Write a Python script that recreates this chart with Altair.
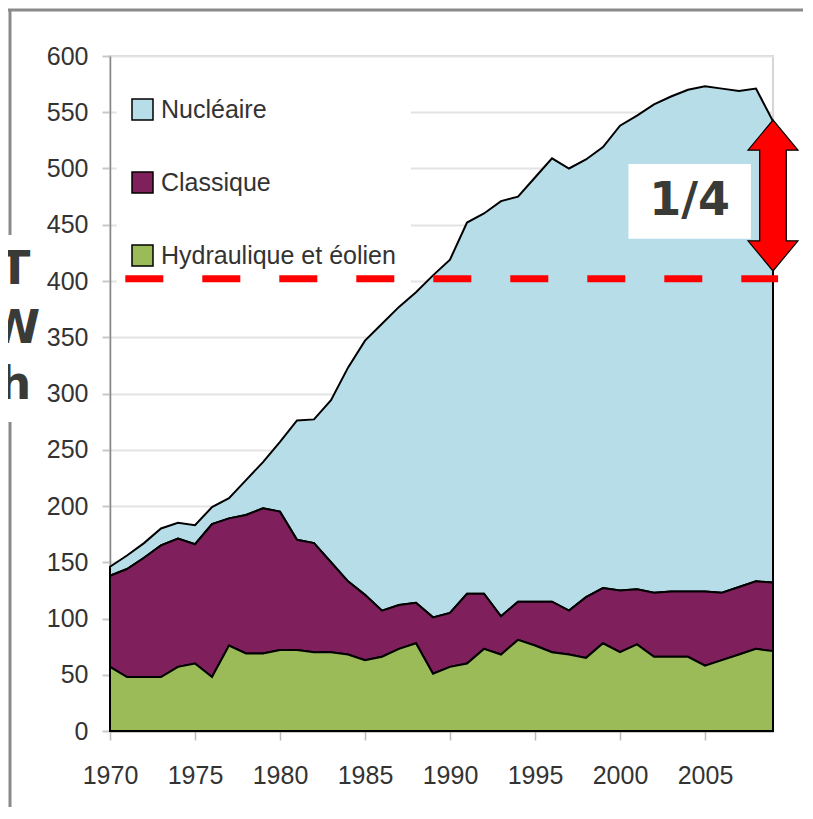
import altair as alt
import pandas as pd

# ---- data (TWh) ----
annees = list(range(1970, 2010))
hydraulique = [57, 48, 48, 48, 57, 60, 48, 76, 69, 69,
               72, 72, 70, 70, 68, 63, 66, 73, 78, 51,
               57, 60, 73, 68, 81, 76, 70, 68, 65, 78,
               70, 77, 66, 66, 66, 58, 63, 68, 73, 71]
classique = [81, 96, 106, 117, 114, 106, 136, 113, 123, 129,
             123, 98, 97, 80, 65, 58, 41, 39, 36, 50,
             48, 62, 49, 34, 34, 39, 45, 39, 54, 49,
             55, 49, 57, 58, 58, 66, 60, 60, 60, 61]
nucleaire = [8, 12, 13, 15, 14, 17, 15, 18, 31, 41,
             62, 106, 110, 144, 190, 226, 255, 265, 276, 304,
             314, 330, 338, 369, 360, 377, 394, 393, 389, 392,
             413, 421, 434, 440, 446, 449, 448, 441, 438, 410]

sources = ["Nucléaire", "Classique", "Hydraulique et éolien"]
couleurs = ["#B7DEE8", "#7F1F5B", "#9BBB59"]
ordre_pile = {"Hydraulique et éolien": 0, "Classique": 1, "Nucléaire": 2}
series = {"Nucléaire": nucleaire, "Classique": classique, "Hydraulique et éolien": hydraulique}

x_ticks = [1970, 1975, 1980, 1985, 1990, 1995, 2000, 2005]
y_ticks = list(range(0, 601, 50))

# annotations
seuil = 400
ligne_seuil = {"x": 1970.9, "x2": 2009.3, "y": 402}
fleche = {"x": 2009, "y": 476}
fraction_texte = "1/4"
fraction_pos = {"x": 2004.1, "y": 471}
fraction_boite = {"x": 2000.5, "x2": 2007.7, "y": 437.5, "y2": 504}
legende_fond = {"x": 1970.4, "x2": 1987.7, "y": 383, "y2": 575}
unite_lettres = ["T", "W", "h"]
unite_y = [410, 357, 308]
unite_x = 1964.4

rows = []
for s in sources:
    for a, v in zip(annees, series[s]):
        rows.append({"annee": a, "source": s, "valeur": v, "ordre": ordre_pile[s]})
df = pd.DataFrame(rows)

x_scale = alt.Scale(domain=[1970, 2009], nice=False, zero=False)
y_scale = alt.Scale(domain=[0, 600], nice=False)

FONT = "Liberation Sans"

fond = alt.Chart(pd.DataFrame([legende_fond])).mark_rect(fill="white").encode(
    x=alt.X("x:Q", scale=x_scale), x2="x2:Q",
    y=alt.Y("y:Q", scale=y_scale), y2="y2:Q")

areas = alt.Chart(df).mark_area(stroke="black", strokeWidth=2, opacity=1).encode(
    x=alt.X("annee:Q", scale=x_scale,
            axis=alt.Axis(values=x_ticks, format="d", title=None, grid=False,
                          labelFontSize=25, labelFont=FONT, labelColor="#333333",
                          labelFlush=False, labelOverlap=False,
                          tickColor="#bbbbbb", tickSize=9, tickWidth=1.5,
                          labelPadding=23, domainColor="#555555", domainWidth=1.5)),
    y=alt.Y("valeur:Q", stack="zero", scale=y_scale,
            axis=alt.Axis(values=y_ticks, title=None, grid=True,
                          gridColor="#e3e3e3", gridWidth=2,
                          labelFontSize=25, labelFont=FONT, labelColor="#333333",
                          labelFlush=False, labelOverlap=False,
                          tickColor="#c8c8c8", tickSize=8, tickWidth=2,
                          labelPadding=14, domainColor="#888888", domainWidth=1.5)),
    color=alt.Color("source:N",
                    scale=alt.Scale(domain=sources, range=couleurs),
                    legend=alt.Legend(orient="none", legendX=20, legendY=41, title=None,
                                      symbolType="square", symbolSize=441,
                                      symbolStrokeColor="black", symbolStrokeWidth=1.5,
                                      symbolOpacity=1, labelFontSize=25, labelFont=FONT,
                                      labelColor="#333333", rowPadding=46, labelOffset=6,
                                      labelLimit=500, padding=0)),
    order=alt.Order("ordre:Q", sort="ascending"),
)

seuil_line = alt.Chart(pd.DataFrame([ligne_seuil])).mark_rule(
    color="#FF0000", strokeWidth=7, strokeDash=[38, 39]).encode(
    x=alt.X("x:Q", scale=x_scale), x2="x2:Q", y=alt.Y("y:Q", scale=y_scale))

arrow_path = ("M0,-1 L0.331,-0.6 L0.176,-0.6 L0.176,0.6 L0.331,0.6 L0,1 "
              "L-0.331,0.6 L-0.176,0.6 L-0.176,-0.6 L-0.331,-0.6 Z")
arrow = alt.Chart(pd.DataFrame([fleche])).mark_point(
    shape=arrow_path, filled=True, fill="#FF0000", stroke="black",
    strokeWidth=1.2, size=151 * 151, opacity=1, fillOpacity=1).encode(
    x=alt.X("x:Q", scale=x_scale), y=alt.Y("y:Q", scale=y_scale))

boite = alt.Chart(pd.DataFrame([fraction_boite])).mark_rect(fill="white").encode(
    x=alt.X("x:Q", scale=x_scale), x2="x2:Q",
    y=alt.Y("y:Q", scale=y_scale), y2="y2:Q")

frac = alt.Chart(pd.DataFrame([{**fraction_pos, "t": fraction_texte}])).mark_text(
    font="DejaVu Sans", fontWeight="bold", fontSize=46, color="#3a3a36",
    baseline="middle", align="center").encode(
    x=alt.X("x:Q", scale=x_scale), y=alt.Y("y:Q", scale=y_scale), text="t:N")

unite = alt.Chart(pd.DataFrame({"t": unite_lettres, "y": unite_y,
                                "x": [unite_x] * 3})).mark_text(
    font="DejaVu Sans", fontWeight="bold", fontSize=46, color="#3a3a36",
    baseline="middle", align="center").encode(
    x=alt.X("x:Q", scale=x_scale), y=alt.Y("y:Q", scale=y_scale), text="t:N")

frame_top = alt.Chart(pd.DataFrame({"k": [0]})).mark_rule(
    color="#8a8a8a", strokeWidth=3).encode(
    x=alt.value(-102), x2=alt.value(700), y=alt.value(-46))
frame_left1 = alt.Chart(pd.DataFrame({"k": [0]})).mark_rule(
    color="#8a8a8a", strokeWidth=3).encode(
    x=alt.value(-100), y=alt.value(-47), y2=alt.value(179))
frame_left2 = alt.Chart(pd.DataFrame({"k": [0]})).mark_rule(
    color="#8a8a8a", strokeWidth=3).encode(
    x=alt.value(-100), y=alt.value(366), y2=alt.value(760))

chart = alt.layer(
    fond, areas, seuil_line, arrow, boite, frac, unite,
    frame_top, frame_left1, frame_left2
).properties(
    width=663, height=675,
    autosize=alt.AutoSizeParams(type="none"),
    padding={"left": 102, "top": 48, "right": 30, "bottom": 76},
).configure_view(stroke="#d6d6d6", strokeWidth=2)

chart.save("out.html", embed_options={"renderer": "svg", "actions": False})
